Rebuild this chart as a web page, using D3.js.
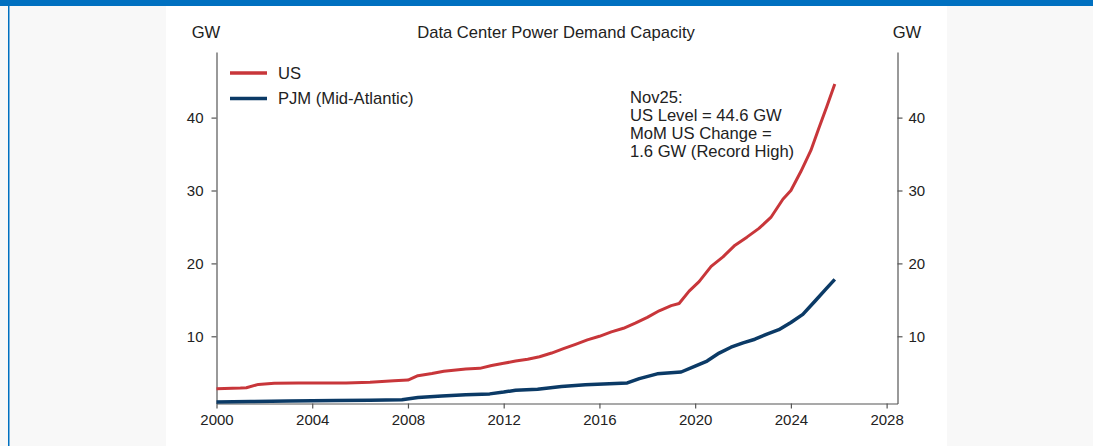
<!DOCTYPE html>
<html>
<head>
<meta charset="utf-8">
<script src="https://cdn.jsdelivr.net/npm/d3@7"></script>
<style>
  html, body { margin: 0; padding: 0; background: #f8f8f8; }
  body { width: 1093px; height: 446px; overflow: hidden; font-family: "Liberation Sans", Arial, sans-serif; }
  svg text { font-family: "Liberation Sans", Arial, sans-serif; fill: #222; }
</style>
</head>
<body>
<svg id="chart" width="1093" height="446"></svg>
<script>
// US data center power demand capacity, GW
const usDates = ["2000-01","2001-01","2001-04","2001-10","2002-06","2003-06","2004-06","2005-06","2006-06","2007-06",
  "2008-01","2008-06","2009-01","2009-07","2010-06","2011-01","2011-07","2012-01","2012-07","2013-01",
  "2013-07","2014-01","2014-07","2015-01","2015-07","2016-01","2016-07","2017-01","2017-07","2018-01",
  "2018-07","2019-01","2019-05","2019-10","2020-03","2020-09","2021-03","2021-09","2022-03","2022-09",
  "2023-03","2023-09","2024-01","2024-06","2024-11","2025-03","2025-07","2025-11"];
const usValues = [2.8,2.9,2.95,3.4,3.55,3.6,3.6,3.6,3.7,3.9,
  4.0,4.6,4.9,5.2,5.5,5.6,6.0,6.3,6.6,6.85,
  7.2,7.7,8.3,8.9,9.5,10.0,10.6,11.1,11.8,12.6,
  13.5,14.2,14.5,16.2,17.5,19.6,20.9,22.5,23.6,24.8,
  26.3,28.8,30.0,32.6,35.5,38.5,41.5,44.6];

// PJM (Mid-Atlantic), GW
const pjmDates = ["2000-01","2001-06","2003-01","2005-01","2006-06","2007-10","2008-06","2009-06","2010-06","2011-06",
  "2012-01","2012-07","2013-06","2014-06","2015-06","2016-06","2017-03","2017-09","2018-06","2019-06",
  "2020-01","2020-07","2021-01","2021-07","2022-01","2022-07","2023-01","2023-07","2024-01","2024-07",
  "2025-01","2025-07","2025-11"];
const pjmValues = [1.0,1.05,1.12,1.18,1.22,1.3,1.6,1.8,1.98,2.1,
  2.35,2.6,2.75,3.1,3.35,3.5,3.6,4.2,4.85,5.1,
  5.9,6.6,7.7,8.5,9.1,9.6,10.3,10.9,11.9,13.0,
  14.8,16.6,17.8];

const yTicks = [10, 20, 30, 40];
const xTickYears = [2000, 2004, 2008, 2012, 2016, 2020, 2024, 2028];
const SERIES = [
  { key: "us", label: "US", color: "#C8363A", width: 3, dates: usDates, values: usValues },
  { key: "pjm", label: "PJM (Mid-Atlantic)", color: "#0B3A66", width: 3.5, dates: pjmDates, values: pjmValues },
];
const noteLines = ["Nov25:", "US Level = 44.6 GW", "MoM US Change =", "1.6 GW (Record High)"];

const parse = d3.timeParse("%Y-%m");
const svg = d3.select("#chart");

// ---------- page frame ----------
svg.append("rect").attr("x", 0).attr("y", 0).attr("width", 1093).attr("height", 446).attr("fill", "#f8f8f8");
svg.append("rect").attr("x", 166).attr("y", 0).attr("width", 781).attr("height", 446).attr("fill", "#fff");
svg.append("rect").attr("x", 0).attr("y", 0).attr("width", 1093).attr("height", 6).attr("fill", "#0070C0");
svg.append("rect").attr("x", 8).attr("y", 0).attr("width", 1.5).attr("height", 446).attr("fill", "#0070C0");

// ---------- scales ----------
const L = 216.5, R = 897.5, T = 52, B = 403.5;
const x = d3.scaleTime().domain([new Date(2000, 0, 1), new Date(2028, 5, 15)]).range([L, R]);
const y = d3.scaleLinear().domain([0.78, 49]).range([B, T]);

// ---------- axes ----------
const fs = "15px", fsText = "16.6px";
const gL = svg.append("g").attr("transform", `translate(${L},0)`)
  .call(d3.axisLeft(y).tickValues(yTicks).tickSize(5).tickPadding(8).tickSizeOuter(0));
const gR = svg.append("g").attr("transform", `translate(${R},0)`)
  .call(d3.axisRight(y).tickValues(yTicks).tickSize(5).tickPadding(6).tickSizeOuter(0));
const gX = svg.append("g").attr("transform", `translate(0,${B})`)
  .call(d3.axisBottom(x).tickValues(xTickYears.map(yr => new Date(yr, 0, 1))).tickFormat(d3.timeFormat("%Y"))
    .tickSize(5).tickPadding(6).tickSizeOuter(0));
[gL, gR, gX].forEach(g => {
  g.select(".domain").attr("stroke", "#555").attr("stroke-width", 1.2);
  g.selectAll(".tick line").attr("stroke", "#555").attr("stroke-width", 1.2);
  g.selectAll(".tick text").style("font-size", fs).attr("fill", "#222");
});

// ---------- titles ----------
svg.append("text").attr("x", 556).attr("y", 38).attr("text-anchor", "middle").style("font-size", fsText)
  .text("Data Center Power Demand Capacity");
svg.append("text").attr("x", 206).attr("y", 38).attr("text-anchor", "middle").style("font-size", fsText).text("GW");
svg.append("text").attr("x", 907).attr("y", 38).attr("text-anchor", "middle").style("font-size", fsText).text("GW");

// ---------- lines ----------
const line = d3.line().x(d => x(d.date)).y(d => y(d.v));
SERIES.slice().reverse().forEach(s => {
  const pts = s.dates.map((d, i) => ({ date: parse(d), v: s.values[i] }));
  svg.append("path").datum(pts).attr("d", line)
    .attr("fill", "none").attr("stroke", s.color).attr("stroke-width", s.width)
    .attr("stroke-linejoin", "round");
});

// ---------- legend ----------
const lg = svg.append("g").attr("transform", "translate(230,73)");
lg.selectAll("g").data(SERIES).join("g").attr("transform", (d, i) => `translate(0,${i * 25.5})`)
  .each(function (d) {
    const g = d3.select(this);
    g.append("line").attr("x1", 0).attr("x2", 37).attr("stroke", d.color).attr("stroke-width", 3.5);
    g.append("text").attr("x", 48).attr("dy", "0.35em").style("font-size", fsText).text(d.label);
  });

// ---------- annotation ----------
svg.append("text").attr("x", 630).attr("y", 103).style("font-size", fsText)
  .selectAll("tspan").data(noteLines).join("tspan")
  .attr("x", 630).attr("dy", (d, i) => i === 0 ? 0 : 18).text(d => d);
</script>
</body>
</html>
